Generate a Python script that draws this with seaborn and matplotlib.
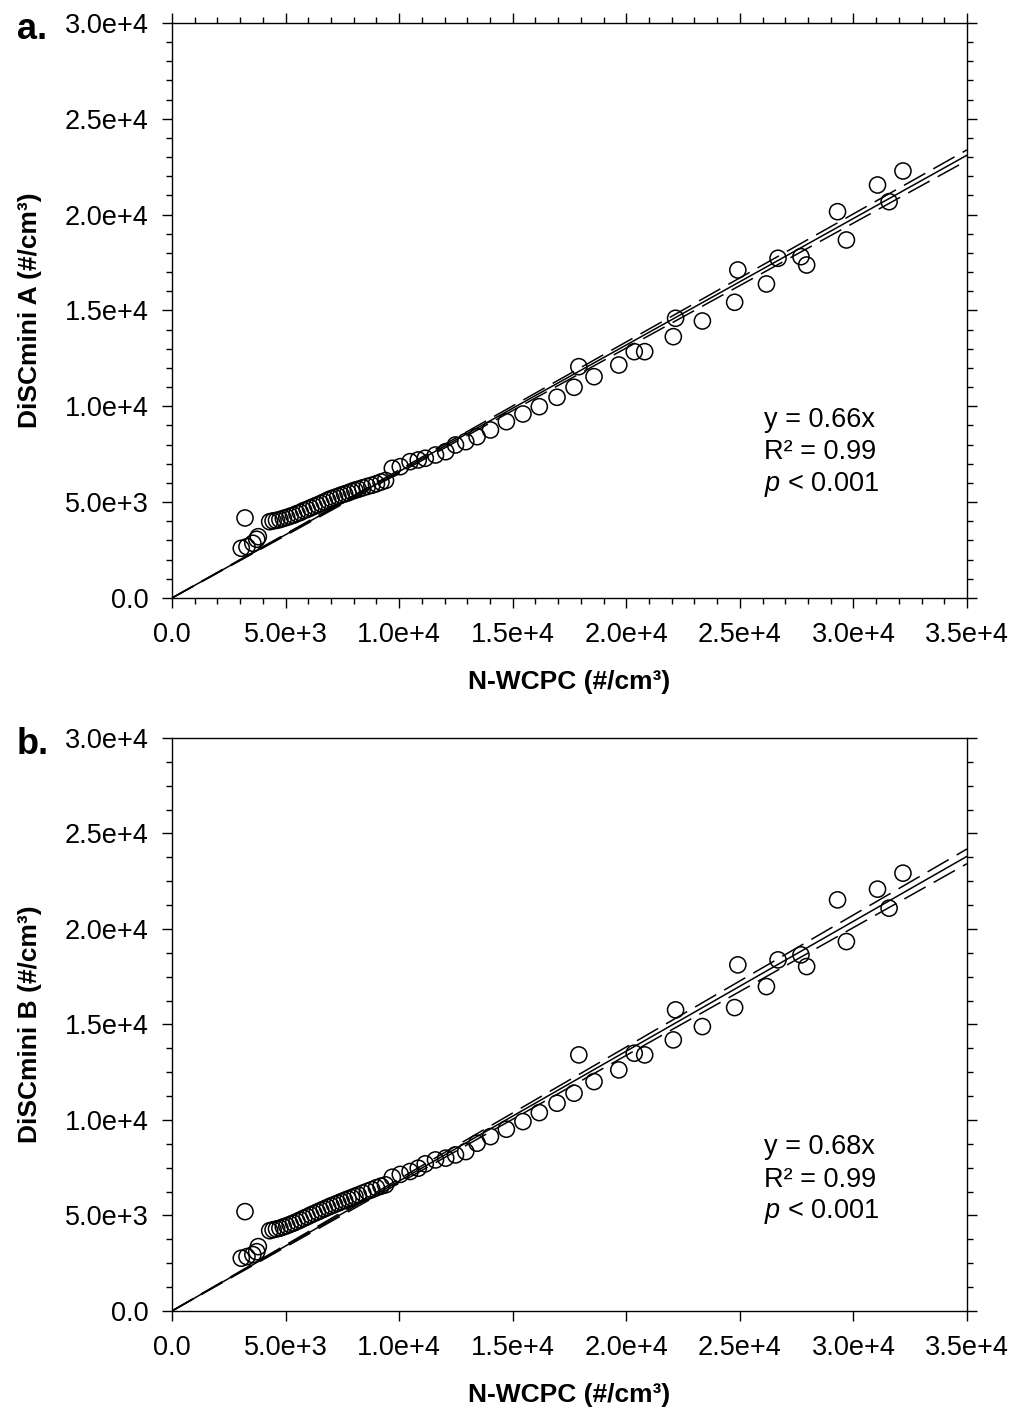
import numpy as np
import matplotlib
matplotlib.use("Agg")
import matplotlib.pyplot as plt
from matplotlib.ticker import MultipleLocator, FuncFormatter
import seaborn as sns

# N-WCPC concentrations (#/cm3), shared by both panels
low_x = [3050, 3214, 3300, 3560, 3730, 3800]
dense_x = [4300, 4450, 4600, 4750, 4900, 5050, 5200, 5350, 5500, 5650, 5800,
           5950, 6100, 6250, 6400, 6550, 6700, 6850, 7000, 7150, 7300, 7450,
           7600, 7750, 7900, 8050, 8200, 8400, 8600, 8800, 9000, 9200, 9400]
sparse_x = [9700, 10050, 10480, 10840, 11150, 11600, 12050, 12480, 12930, 13430,
            14020, 14720, 15450, 16170, 16950, 17700, 17910, 18580, 19670, 20350,
            20810, 22070, 22170, 23350, 24770, 24910, 26170, 26680, 27690, 27940,
            29300, 29690, 31060, 31570, 32180]

# DiSCmini A
low_a = [2593, 4174, 2676, 2854, 3062, 3198]
dense_a = [3980, 4020, 4050, 4090, 4150, 4200, 4260, 4320, 4400, 4460, 4560,
           4620, 4700, 4780, 4850, 4930, 5010, 5100, 5180, 5240, 5300, 5370,
           5430, 5490, 5560, 5620, 5670, 5750, 5820, 5880, 5960, 6050, 6130]
sparse_a = [6766, 6850, 7111, 7200, 7288, 7460, 7633, 7982, 8154, 8415,
            8765, 9198, 9599, 9980, 10470, 10992, 12067, 11545, 12155, 12850,
            12850, 13632, 14592, 14450, 15426, 17112, 16381, 17722, 17806, 17372,
            20153, 18677, 21546, 20675, 22276]

# DiSCmini B
low_b = [2760, 5199, 2843, 2950, 3100, 3367]
dense_b = [4200, 4250, 4290, 4330, 4400, 4460, 4530, 4600, 4680, 4760, 4850,
           4930, 5020, 5100, 5180, 5260, 5340, 5420, 5500, 5570, 5640, 5720,
           5790, 5860, 5930, 6000, 6070, 6170, 6260, 6350, 6450, 6530, 6600]
sparse_b = [7000, 7150, 7300, 7472, 7700, 7906, 8000, 8168, 8341, 8781,
            9126, 9514, 9912, 10383, 10875, 11399, 13404, 12006, 12619, 13493,
            13404, 14189, 15760, 14886, 15881, 18117, 16981, 18378, 18640, 18028,
            21520, 19337, 22081, 21085, 22918]

# fits through origin and 95% band (slope +/-)
slope_a, band_a = 0.66, 0.008
slope_b, band_b = 0.68, 0.011
stats_a = ["y = 0.66x", "R² = 0.99", r"$\it{p}$ < 0.001"]
stats_b = ["y = 0.68x", "R² = 0.99", r"$\it{p}$ < 0.001"]

sns.set_style("ticks")
plt.rcParams['font.family'] = ['Liberation Sans', 'DejaVu Sans']
plt.rcParams['mathtext.fontset'] = 'custom'
plt.rcParams['mathtext.rm'] = 'Liberation Sans'
plt.rcParams['mathtext.it'] = 'Liberation Sans:italic'
plt.rcParams['axes.linewidth'] = 1.0
plt.rcParams['axes.edgecolor'] = 'black'
for key in ['text.color', 'axes.labelcolor', 'xtick.color', 'ytick.color']:
    plt.rcParams[key] = 'black'


def sci(v, pos):
    # SigmaPlot style: 5.0e+3, 1.0e+4
    if v == 0:
        return "0.0"
    m, e = ("%.1e" % v).split("e")
    return "%se+%d" % (m, int(e))


fig = plt.figure(figsize=(10.13, 14.16), dpi=100)
ax1 = fig.add_axes([0.1698, 0.5777, 0.7848, 0.4061])
ax2 = fig.add_axes([0.1698, 0.0742, 0.7848, 0.4047])

x_all = low_x + dense_x + sparse_x
xline = np.array([0, 35000])

panels = [(ax1, low_a + dense_a + sparse_a, slope_a, band_a, stats_a,
           "DiSCmini A (#/cm³)", 1000, 1000, True, [0.3096, 0.254, 0.198]),
          (ax2, low_b + dense_b + sparse_b, slope_b, band_b, stats_b,
           "DiSCmini B (#/cm³)", None, 1250, False, [0.286, 0.2286, 0.1728])]

for ax, y, k, dk, stats, ylab, xminor, yminor, top, ty in panels:
    sns.scatterplot(x=x_all, y=y, ax=ax, marker='o', s=135,
                    facecolors='none', edgecolor='black', linewidth=1.1, zorder=3)
    ax.plot(xline, k * xline, color='black', lw=1.1, zorder=2)
    for kk in (k - dk, k + dk):
        ax.plot(xline, kk * xline, color='black', lw=1.1, dashes=(16, 6), zorder=2)
    ax.set_xlim(0, 35000)
    ax.set_ylim(0, 30000)
    ax.xaxis.set_major_locator(MultipleLocator(5000))
    ax.yaxis.set_major_locator(MultipleLocator(5000))
    if xminor:
        ax.xaxis.set_minor_locator(MultipleLocator(xminor))
    ax.yaxis.set_minor_locator(MultipleLocator(yminor))
    ax.xaxis.set_major_formatter(FuncFormatter(sci))
    ax.yaxis.set_major_formatter(FuncFormatter(sci))
    ax.tick_params(which='both', direction='out', top=top, right=True,
                   labelsize=19.5, width=1.0, color='black', pad=10)
    ax.tick_params(which='major', length=7)
    ax.tick_params(which='minor', length=4.5)
    ax.set_xlabel("N-WCPC (#/cm³)", fontsize=19, fontweight='bold', labelpad=16)
    ax.set_ylabel(ylab, fontsize=19, fontweight='bold', labelpad=16)
    for s, yy in zip(stats, ty):
        ax.text(0.7447, yy, s, transform=ax.transAxes, fontsize=19.5,
                va='center', ha='left')

fig.text(17 / 1013, 1 - 39 / 1416, "a.", fontsize=26, fontweight='bold', va='baseline')
fig.text(17 / 1013, 1 - 754 / 1416, "b.", fontsize=26, fontweight='bold', va='baseline')

fig.savefig("out.png", dpi=100)
